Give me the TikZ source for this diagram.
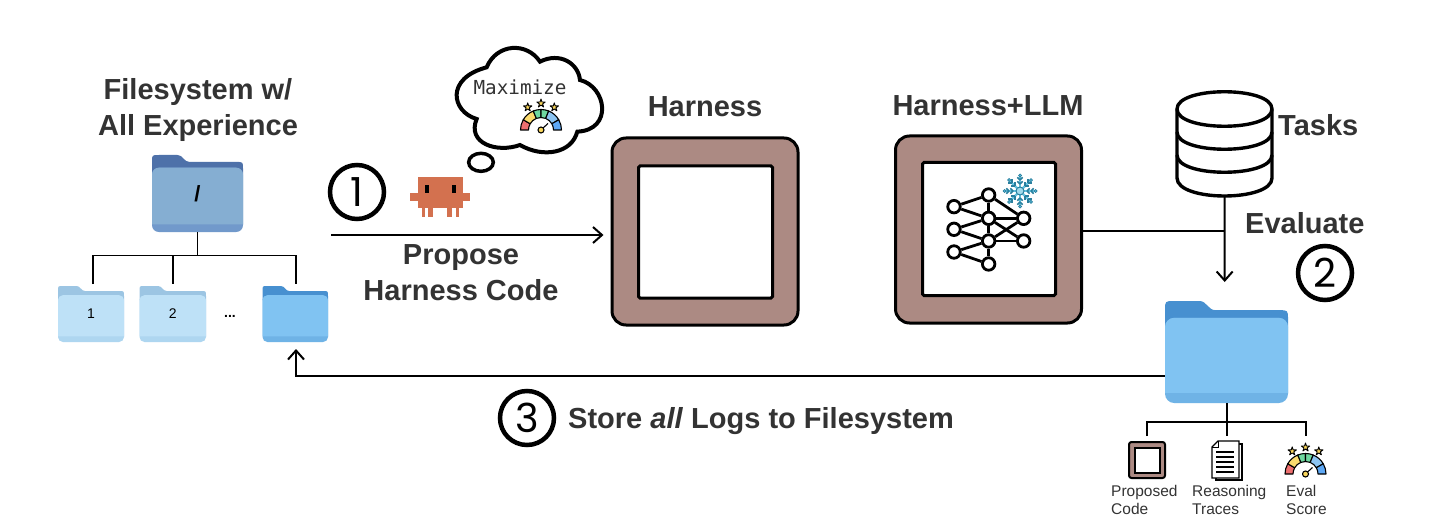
\documentclass[tikz,border=0pt]{standalone}
\usepackage{fontspec}
\setmainfont{Liberation Sans}
\newfontfamily\monofnt{DejaVu Sans Mono}
\newfontfamily\numfnt{Poppins}
\usetikzlibrary{arrows.meta,calc}
\definecolor{txt}{HTML}{333333}
\definecolor{brown}{HTML}{AC8A83}
\definecolor{crab}{HTML}{D3714F}
\definecolor{rootback}{HTML}{4E71A9}\definecolor{rootfront}{HTML}{85AED2}\definecolor{rootstrip}{HTML}{7199CB}
\definecolor{lightback}{HTML}{9CC5E3}\definecolor{lightfront}{HTML}{BEE1F7}\definecolor{lightstrip}{HTML}{AED6F0}
\definecolor{blueback}{HTML}{4790D0}\definecolor{bluefront}{HTML}{80C3F2}\definecolor{bluestrip}{HTML}{6FB3E6}
\definecolor{gred}{HTML}{EE6F6F}\definecolor{gyellow}{HTML}{FBDB6E}\definecolor{ggreen}{HTML}{6FD8A0}
\definecolor{gblue}{HTML}{8CC4F2}\definecolor{gdeep}{HTML}{5EA8F5}\definecolor{gstar}{HTML}{F9D65C}
\definecolor{flakeline}{HTML}{2A7F9E}\definecolor{flakefill}{HTML}{62C3E0}
\newcommand{\folderIcon}[9]{%
 % name,x1,y1,x2,y2,back,front,strip,label
 \pgfmathsetmacro{\fw}{#4-#2}\pgfmathsetmacro{\fh}{#5-#3}
 \pgfmathsetmacro{\fr}{\fw*0.075}
 \pgfmathsetmacro{\fa}{#2+\fw*0.28}\pgfmathsetmacro{\fb}{#2+\fw*0.41}
 \pgfmathsetmacro{\fc}{#3+\fh*0.09}\pgfmathsetmacro{\fd}{#3+\fh*0.165}
 \pgfmathsetmacro{\fs}{#5-\fh*0.10}
 \fill[#6] (#2,\fd+\fr) -- (#2,#3+\fr) .. controls (#2,#3) and (#2,#3) .. (#2+\fr,#3) -- (\fa,#3)
   .. controls (\fa+\fw*0.06,#3) and (\fb-\fw*0.06,\fc) .. (\fb,\fc) -- (#4-\fr,\fc)
   .. controls (#4,\fc) and (#4,\fc) .. (#4,\fc+\fr) -- (#4,\fd+\fr) -- cycle;
 \fill[#8,rounded corners=\fr pt] (#2,\fd) rectangle (#4,#5);
 \fill[#7] (#2,\fs) [rounded corners=\fr pt] -- (#2,\fd) -- (#4,\fd) [sharp corners] -- (#4,\fs) -- cycle;
 \node[inner sep=0pt,minimum width=\fw pt,minimum height=\fh pt,font=\fontsize{14}{14}\selectfont,text=black] (#1) at ({(#2+#4)/2},{(#3+#5)/2}) {\raisebox{-3pt}{#9}};
}
\newcommand{\gaugeIcon}[2]{%
 \begin{scope}[shift={(#1,#2)},x=1pt,y=1pt,line width=1.1pt,draw=black,line join=round]
  \def\wedge##1##2##3{\filldraw[fill=##3] (##1:20.5) arc (##1:##2:20.5) -- (##2:12.5) arc (##2:##1:12.5) -- cycle;}
  \wedge{180}{150}{gred}
  \wedge{150}{112}{gyellow}
  \wedge{112}{90}{ggreen}
  \wedge{90}{68}{ggreen}
  \wedge{68}{30}{gblue}
  \wedge{30}{0}{gdeep}
  \draw (1.5,1.5) -- (7,6.5);
  \filldraw[fill=gstar] (0,0) circle (3);
  \foreach \sx/\sy in {-13.3/22.7,0/26.6,13.3/22.7}{
   \filldraw[shift={(\sx,\sy)},scale=4.4,fill=gstar,line width=.9pt] (0,1)--(.224,.309)--(.951,.309)--(.363,-.118)--(.588,-.809)--(0,-.382)--(-.588,-.809)--(-.363,-.118)--(-.951,.309)--(-.224,.309)--cycle;}
 \end{scope}}
\tikzset{
 head/.style={font=\bfseries\fontsize{29}{29}\selectfont,text=txt,inner sep=0pt},
 numring/.style={circle,draw=black,line width=4.5pt,minimum size=54pt,inner sep=0pt,font=\numfnt\fontsize{40}{40}\selectfont,text=black},
 wire/.style={draw=black,line width=1.6pt},
 thick wire/.style={draw=black,line width=2pt},
 arrowed/.style={thick wire,-{Straight Barb[length=9pt,width=16pt,line width=2pt]}},
 outerbox/.style={draw=black,line width=3pt,fill=brown,rounded corners=14pt,inner sep=0pt},
 innerbox/.style={draw=black,line width=3pt,fill=white,rounded corners=1.5pt,inner sep=0pt},
 small/.style={font=\fontsize{15.5}{18}\selectfont,text=txt,inner sep=0pt,align=left,anchor=north west},
 nnnode/.style={circle,draw=black,line width=2.8pt,fill=white,minimum size=12.5pt,inner sep=0pt},
}
\begin{document}
\begin{tikzpicture}[x=1pt,y=-1pt]
\useasboundingbox (0,0) rectangle (1446,524);
\fill[white] (0,0) rectangle (1446,524);
% Filesystem
\node[head,align=center] (fstitle) at (198,110) {Filesystem w/\\[7pt]All Experience};
\folderIcon{root}{152}{155}{243}{232}{rootback}{rootfront}{rootstrip}{\bfseries\fontsize{22}{22}\selectfont /}
\folderIcon{fone}{58}{286}{124}{342}{lightback}{lightfront}{lightstrip}{1}
\folderIcon{ftwo}{139.5}{286}{206}{342}{lightback}{lightfront}{lightstrip}{2}
\folderIcon{flast}{262.5}{286}{328}{342}{blueback}{bluefront}{bluestrip}{}
\node[font=\bfseries\fontsize{14}{14}\selectfont,inner sep=0pt] (dots) at (230,316) {...};
\coordinate (bus) at (197.5,255.5);
\coordinate (busl) at (93,255.5);
\coordinate (busm) at (173,255.5);
\coordinate (busr) at (296,255.5);
\coordinate (dropl) at (93,284);
\coordinate (dropm) at (173,284);
\coordinate (dropr) at (296,284);
\draw[wire] (root.south) -- (bus);
\draw[wire] (dropl) -- (busl) -- (busr) -- (dropr);
\draw[wire] (busm) -- (dropm);
% step 1
\node[numring] (one) at (357,192) {1};
\begin{scope}[crab]
 \fill (418.3,176.7) rectangle (463.3,208.3);
 \fill (410,192.7) rectangle (470,200.7);
 \fill (421.7,208.3) rectangle (425,216.7);
 \fill (428.3,208.3) rectangle (433.3,216.7);
 \fill (447.3,208.3) rectangle (451.7,216.7);
 \fill (456,208.3) rectangle (459.3,216.7);
\end{scope}
\fill[black] (425.3,185) rectangle (429.3,192.7);
\fill[black] (451.7,185) rectangle (455.7,192.7);
\begin{scope}[shift={(320,50)},x=.3333pt,y=-.3333pt]
 \draw[black,line width=4pt,fill=white] (470,207) .. controls (395,185) and (375,85) .. (500,52)
  .. controls (530,-20) and (620,-25) .. (660,35)
  .. controls (720,5) and (775,40) .. (780,90)
  .. controls (860,110) and (880,240) .. (772,245)
  .. controls (755,310) and (670,325) .. (600,285)
  .. controls (530,310) and (440,280) .. (470,207) -- cycle;
 \draw[black,line width=3.5pt,fill=white] (483,337) ellipse [x radius=37,y radius=27];
\end{scope}
\node[font=\monofnt\fontsize{19.3}{19.3}\selectfont,text=txt,inner sep=0pt] (maxim) at (520,87) {Maximize};
\gaugeIcon{541}{130}
\node[inner sep=0pt,minimum size=0pt] (crabstart) at (331,235) {};
\node[head,align=center] (propose) at (461,273) {Propose\\[7pt]Harness Code};
% Harness
\node[head] (hlabel) at (705,107) {Harness};
\node[outerbox,minimum width=186pt,minimum height=187pt] (harness) at (705,231.5) {};
\node[innerbox,minimum width=134pt,minimum height=132pt] (hinner) at (705.5,232) {};
\draw[arrowed,shorten >=7pt] (crabstart) -- (crabstart -| harness.west);
% Harness+LLM
\node[head] (llabel) at (988,106) {Harness+LLM};
\node[outerbox,minimum width=186pt,minimum height=187pt] (llm) at (988.5,229.5) {};
\node[innerbox,minimum width=133pt,minimum height=133pt] (linner) at (989,229) {};
\begin{scope}[shift={(880,130)},x=.3333pt,y=-.3333pt]
 \foreach \n/\px/\py in {a/222/230,b/222/298,c/222/366,d/326/195,e/326/265,f/326/333,g/326/402,h/431/265,i/431/333}
   \node[nnnode] (nn\n) at (\px,\py) {};
 \foreach \p/\q in {a/d,a/e,b/e,b/f,c/f,c/g,d/e,e/f,f/g,d/h,e/h,e/i,f/h,f/i}
   \draw[black,line width=2.8pt] (nn\p) -- (nn\q);
\end{scope}
\begin{scope}[shift={(1020,191)},x=1pt,y=1pt]
 \foreach \ang in {0,45,...,315}{
  \draw[flakefill,line width=2.2pt] (0,0) -- (\ang:15);
  \foreach \rr in {7,11}{
   \draw[flakeline,line width=1.5pt] (\ang:\rr) -- ++(\ang+45:3.8);
   \draw[flakeline,line width=1.5pt] (\ang:\rr) -- ++(\ang-45:3.8);
  }
  \filldraw[draw=flakeline,fill=flakefill,line width=.7pt] (\ang:15.5) circle (1.5);
 }
 \filldraw[draw=flakeline,fill=flakefill!60!white,line width=1pt] (0,0) circle (4);
\end{scope}
% Tasks
\node[inner sep=0pt,minimum width=95pt,minimum height=101pt] (tasks) at (1224.5,145) {};
\draw[black,line width=3.4pt,fill=white,line join=round]
 (1177,109) .. controls (1177,86) and (1272,86) .. (1272,109)
 -- (1272,178) .. controls (1272,202) and (1177,202) .. (1177,178) -- cycle;
\draw[black,line width=3.4pt] (1177,109) .. controls (1177,132) and (1272,132) .. (1272,109);
\draw[black,line width=3.4pt] (1177,132) .. controls (1177,155) and (1272,155) .. (1272,132);
\draw[black,line width=3.4pt] (1177,155) .. controls (1177,178) and (1272,178) .. (1272,155);
\node[head,anchor=west] (taskslab) at (1278,125) {Tasks};
\node[head,anchor=west] (evallab) at (1245,223) {Evaluate};
\node[numring] (two) at (1325,273) {2};
% Result folder
\folderIcon{result}{1165}{301}{1288}{403}{blueback}{bluefront}{bluestrip}{}
\coordinate (merge) at (1224.7,231);
\coordinate (evalend) at (1224.7,282);
\draw[arrowed] (tasks.south) -- (evalend);
\draw[thick wire] (llm.east |- merge) -- (merge);
% Store
\coordinate (backcorner) at (296,376);
\coordinate (backend) at (296,349);
\draw[arrowed] (result.west |- backcorner) -- (backcorner) -- (backend);
\node[numring] (three) at (527,418) {3};
\node[head,anchor=west] (store) at (568,421) {Store \textit{all} Logs to Filesystem};
% Contents
\coordinate (tbus) at (1227,421.7);
\coordinate (tbl) at (1147,421.7);
\coordinate (tbr) at (1306,421.7);
\coordinate (tdl) at (1147,436);
\coordinate (tdm) at (1227,436);
\coordinate (tdr) at (1306,436);
\draw[wire] (tdl) -- (tbl) -- (tbr) -- (tdr);
\draw[wire] (tdm |- result.south) -- (tdm);
\node[draw=black,line width=2pt,fill=brown,rounded corners=2.5pt,minimum size=36pt,inner sep=0pt] (iconh) at (1147,460) {};
\node[draw=black,line width=2pt,fill=white,minimum size=25pt,inner sep=0pt] (iconi) at (1147.5,460.5) {};
% document icon
\draw[black,line width=1.1pt,fill=white] (1216,444) -- (1242,444) -- (1242,480) -- (1216,480) -- cycle;
\draw[black,line width=1.1pt,fill=white] (1218,441) -- (1239,441) -- (1239,478) -- (1212,478) -- (1212,447) -- cycle;
\draw[black,line width=1pt] (1218,441) -- (1218,447) -- (1212,447);
\foreach \ly in {452,457,462,467,472}
 \draw[black,line width=1.1pt] (1216,\ly) -- (1234,\ly);
\gaugeIcon{1305.5}{474}
\node[small] (lab1) at (1111,485.5) {Proposed\\Code};
\node[small] (lab2) at (1192,485.5) {Reasoning\\Traces};
\node[small] (lab3) at (1286,485.5) {Eval\\Score};
\end{tikzpicture}
\end{document}
